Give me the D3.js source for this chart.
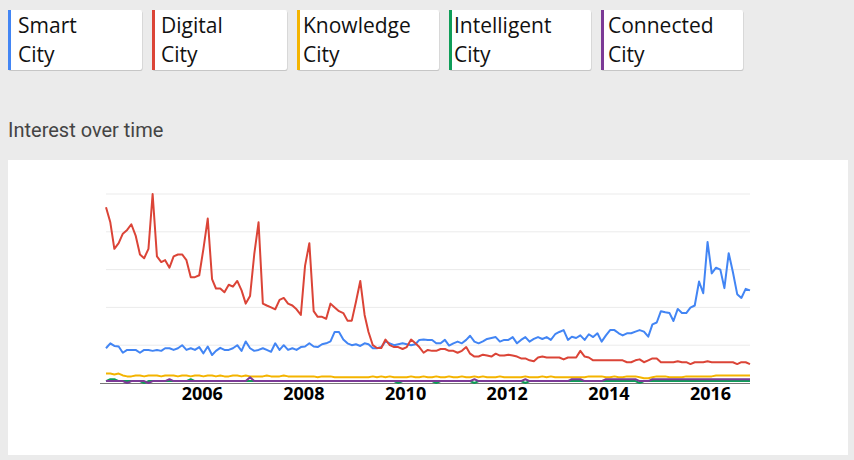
<!DOCTYPE html>
<html>
<head>
<meta charset="utf-8">
<script src="https://cdn.jsdelivr.net/npm/d3@7"></script>
<style>
  body { margin: 0; background: #ebebeb; }
  svg { display: block; }
</style>
</head>
<body>
<svg id="chart"></svg>
<script>
// Search terms and their colours
const seriesNames = ["Smart City", "Digital City", "Knowledge City", "Intelligent City", "Connected City"];
const seriesColors = ["#4285f4", "#db4437", "#f4b400", "#0f9d58", "#7b3a96"];

// Monthly values from Jan 2004
const startMonth = new Date(2004, 0, 1);
const yearTicks = [2006, 2008, 2010, 2012, 2014, 2016];

const smartCity = [
  18.4, 21, 19.6, 19.3, 16, 17.5, 17.5, 17.5, 16, 17.5, 17.5, 17,
  17.5, 17, 18.4, 18.4, 17.5, 18.4, 20, 17.5, 18.4, 17.5, 19, 15.7,
  19.3, 14.8, 17, 18.6, 17.5, 17.5, 18.4, 20, 17, 22, 18.4, 17,
  17.5, 18.4, 17.5, 16.5, 21, 17.5, 20, 17.5, 18.4, 17.5, 19, 19.3,
  21, 19.3, 19, 20.5, 21, 22, 27, 27, 23, 21, 20, 20.5,
  19.6, 21, 20.5, 18.4, 18.4, 19, 22, 21, 20, 20.5, 21, 20.5,
  20, 20.5, 22.8, 23, 22.8, 22.8, 21, 21, 22.8, 19.8, 21, 21.9,
  21, 22.8, 25, 21.9, 21, 22, 23.3, 23.8, 24.3, 21.9, 22.8, 22.8,
  24.3, 21, 22.8, 24.3, 21.9, 23.3, 24.3, 23.3, 24.3, 22.8, 25.8, 27,
  28, 22.8, 24.5, 23.8, 25.2, 22.8, 25.8, 24.3, 26.3, 21.9, 25.2, 28,
  28, 26.3, 25.2, 26.3, 26.3, 27.2, 28, 27.2, 24.5, 31, 32, 38,
  37.4, 37, 32.8, 39.2, 37, 37, 39.9, 41, 53.7, 47.5, 74.6, 58,
  61, 60, 50.2, 68.7, 58.7, 47, 45, 49.8, 49
];

const digitalCity = [
  93, 85, 71, 74, 79, 81, 84, 78, 68, 66, 71, 100,
  67, 64, 65, 61, 67, 68, 68, 65, 56, 56, 57, 71,
  87, 55, 50, 50, 48, 52, 51, 54, 49, 42, 46, 68,
  85, 42, 41, 40, 39, 44, 45, 42, 41, 39, 36, 62,
  74, 38, 35, 35, 34, 42, 40, 38, 37, 33, 33, 43,
  54, 36, 27, 20, 18.5, 18.5, 23, 20, 19, 19, 18, 19,
  23, 21, 19, 16, 17.5, 17, 17, 18, 18, 17, 17, 16,
  17, 19, 15.5, 14, 14, 15, 14.5, 14, 15.5, 14.5, 14.5, 15,
  14.5, 14, 13, 13, 12, 11.5, 13.5, 14, 13.5, 13.5, 13.5, 13.5,
  12.5, 13.5, 13.5, 13.5, 17, 14, 13.5, 12, 12, 12, 12, 12,
  12, 12, 12, 11, 11, 12, 12.5, 11, 12, 13, 13, 11,
  11, 11, 11, 11.5, 11, 11, 10, 11, 11, 11, 11.5, 11,
  11, 11, 11, 11, 11, 10, 11, 11, 10
];

const knowledgeCity = [
  5, 5, 4.5, 5, 4, 3.5, 3.5, 4, 4, 3.5, 4, 4,
  4, 3.5, 4, 4, 4, 3.5, 4, 4, 3.5, 4, 4, 3.5,
  4, 4, 3.5, 4, 3.5, 3.5, 4, 4, 3.5, 4, 3.5, 3.5,
  3.5, 3.5, 4, 3.5, 3.5, 3.5, 4, 3.5, 3.5, 3.5, 3.5, 3.5,
  3.5, 3.5, 3, 3.5, 3.5, 3.5, 3, 3, 3, 3, 3, 3,
  3, 3, 3, 3.5, 3, 3.5, 3, 3.5, 3, 3, 3, 3,
  3.5, 3, 3, 3.5, 3, 3, 3.5, 3, 3, 3.5, 3, 3,
  3.5, 3, 3, 3.5, 3, 3.5, 3, 3, 3, 3.5, 3, 3,
  3, 3, 3, 3.5, 3, 3, 3, 3.5, 3, 3.5, 3, 3,
  3, 3, 3, 3, 3, 3, 3.5, 3.5, 3.5, 3.5, 3, 3,
  3.5, 3, 3, 3.5, 3.5, 3.5, 3, 2.5, 2.5, 3, 3.5, 3.5,
  3.5, 3, 3, 3, 3, 3.5, 3.5, 3.5, 3.5, 3.5, 3.5, 3.5,
  4, 4, 4, 4, 4, 4, 4, 4, 4
];

const intelligentCity = [
  1, 2, 2, 1, 1, 1, 1, 1, 1, 0, 1, 1,
  1, 1, 1, 1, 1, 1, 1, 1, 2, 1, 1, 1,
  1, 1, 1, 1, 1, 1, 1, 1, 1, 1, 1, 1,
  1, 1, 1, 1, 1, 1, 1, 1, 1, 1, 1, 1,
  1, 1, 1, 1, 1, 1, 1, 1, 1, 1, 1, 1,
  1, 1, 1, 1, 1, 1, 1, 1, 1, 0, 1, 1,
  1, 1, 1, 1, 1, 1, 0, 1, 1, 1, 1, 1,
  1, 1, 1, 0, 1, 1, 1, 1, 1, 1, 1, 1,
  1, 1, 1, 0, 1, 1, 1, 1, 1, 1, 1, 1,
  1, 1, 1, 1, 1, 1, 1, 1, 1, 1, 1, 1,
  1, 1, 1, 1, 1, 1, 0, 1, 1, 1, 1, 1,
  1, 1, 1, 1, 1, 1, 1, 1, 1, 1, 1, 1,
  1, 1, 1, 1, 1, 1, 1, 1, 1
];

const connectedCity = [
  1, 1, 1, 1, 1, 0, 1, 1, 1, 1, 0, 1,
  1, 1, 1, 2, 1, 1, 1, 1, 1, 1, 1, 1,
  1, 1, 1, 1, 1, 1, 1, 1, 1, 1, 3, 1,
  1, 1, 1, 1, 1, 1, 1, 1, 1, 1, 1, 1,
  1, 1, 1, 1, 1, 1, 1, 1, 1, 1, 1, 1,
  1, 1, 1, 1, 1, 1, 1, 1, 1, 1, 1, 1,
  1, 1, 1, 1, 1, 1, 1, 1, 1, 1, 1, 1,
  1, 1, 1, 2, 1, 1, 1, 1, 1, 1, 1, 1,
  1, 1, 1, 2, 1, 1, 1, 1, 1, 1, 1, 1,
  1, 1, 2, 2, 2, 1, 1, 1, 1, 1, 2, 2,
  2, 2, 2, 2, 2, 2, 1, 1, 1, 2, 2, 2,
  2, 2, 2, 2, 2, 2, 2, 2, 2, 2, 2, 2,
  2, 2, 2, 2, 2, 2, 2, 2, 2
];

const seriesValues = [smartCity, digitalCity, knowledgeCity, intelligentCity, connectedCity];

const width = 854, height = 460;

const svg = d3.select("#chart")
    .attr("width", width)
    .attr("height", height)
    .style("font-family", "'Open Sans', sans-serif");

// Legend cards across the top
const boxX = [8, 152, 297, 449, 601];
const boxW = [134, 135, 142, 142, 142];
const textX = [10, 9, 6, 5, 7];

const legend = svg.selectAll(".legend")
    .data(seriesNames)
    .enter().append("g")
    .attr("class", "legend")
    .attr("transform", (d, i) => `translate(${boxX[i]},10)`);

legend.append("rect") // soft shadow
    .attr("x", 0.5).attr("y", 1)
    .attr("width", (d, i) => boxW[i]).attr("height", 60)
    .attr("rx", 2)
    .attr("fill", "#c6c6c6");

legend.append("rect")
    .attr("width", (d, i) => boxW[i]).attr("height", 60)
    .attr("rx", 2)
    .attr("fill", "#fff");

legend.append("rect")
    .attr("width", 3).attr("height", 60)
    .attr("fill", (d, i) => seriesColors[i]);

legend.append("text")
    .attr("x", (d, i) => textX[i]).attr("y", 23)
    .attr("font-size", 21)
    .attr("fill", "#111")
    .text(d => d.split(" ")[0]);

legend.append("text")
    .attr("x", (d, i) => textX[i]).attr("y", 52)
    .attr("font-size", 21)
    .attr("fill", "#111")
    .text(d => d.split(" ")[1]);

// Section title
svg.append("text")
    .attr("x", 8).attr("y", 137)
    .attr("font-family", "Roboto, sans-serif")
    .attr("font-size", 20)
    .attr("fill", "#444")
    .text("Interest over time");

// White chart panel
svg.append("rect")
    .attr("x", 8).attr("y", 160)
    .attr("width", 840).attr("height", 295)
    .attr("fill", "#fff");

const months = smartCity.map((d, i) => d3.timeMonth.offset(startMonth, i));

const x = d3.scaleTime()
    .domain([months[0], months[months.length - 1]])
    .range([106, 750]);

const y = d3.scaleLinear()
    .domain([0, 100])
    .range([383, 194]);

// Horizontal gridlines
svg.selectAll(".grid")
    .data(y.ticks(5).filter(d => d > 0))
    .enter().append("line")
    .attr("class", "grid")
    .attr("x1", 106).attr("x2", 750)
    .attr("y1", d => y(d)).attr("y2", d => y(d))
    .attr("stroke", "#ebebeb")
    .attr("stroke-width", 1);

// Baseline
svg.append("line")
    .attr("x1", 100).attr("x2", 750)
    .attr("y1", y(0) + 0.5).attr("y2", y(0) + 0.5)
    .attr("stroke", "#777");

// Series lines
const line = d3.line()
    .x((d, i) => x(months[i]))
    .y(d => y(d));

svg.selectAll(".series")
    .data(seriesValues)
    .enter().append("path")
    .attr("class", "series")
    .attr("d", d => line(d))
    .attr("fill", "none")
    .attr("stroke", (d, i) => seriesColors[i])
    .attr("stroke-width", 2)
    .attr("stroke-linejoin", "round");

// Year labels
const xAxis = svg.append("g")
    .attr("transform", `translate(0,${y(0)})`)
    .call(d3.axisBottom(x)
        .tickValues(yearTicks.map(yr => new Date(yr, 0, 1)))
        .tickFormat(d3.timeFormat("%Y"))
        .tickSize(0)
        .tickPadding(4));

xAxis.select(".domain").remove();
xAxis.selectAll("text")
    .attr("dx", -6)
    .attr("font-family", "'Open Sans', sans-serif")
    .attr("font-size", 18)
    .attr("font-weight", "bold")
    .attr("fill", "#000");
</script>
</body>
</html>
